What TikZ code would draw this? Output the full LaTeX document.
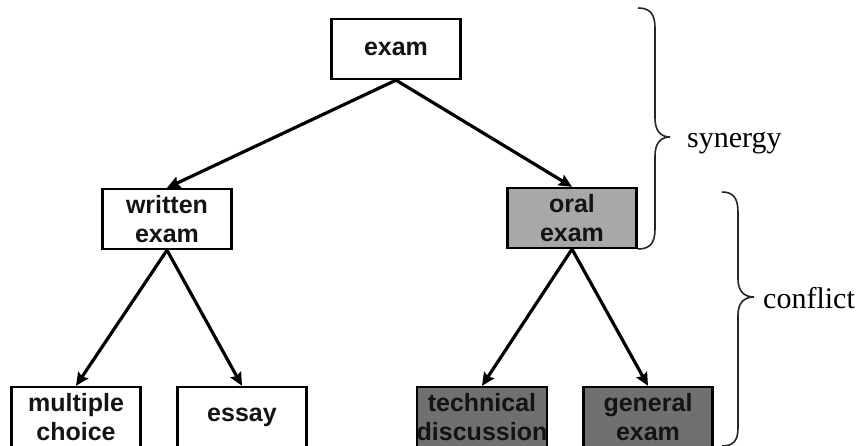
\documentclass[tikz,border=0pt]{standalone}
\usepackage{fontspec}
\setmainfont{Liberation Sans}
\newfontfamily\serifface{Liberation Serif}
\usetikzlibrary{arrows.meta}

\definecolor{lightfill}{RGB}{168,168,168}
\definecolor{darkfill}{RGB}{112,112,112}
\definecolor{inktext}{RGB}{20,20,20}

\begin{document}
\begin{tikzpicture}[x=1pt,y=-1pt,
  box/.style={draw=black, line width=2.3pt, fill=white, minimum width=129pt,
    minimum height=60pt, inner sep=0pt, align=center, text=inktext,
    font=\fontsize{25}{29}\selectfont\bfseries},
  lightbox/.style={box, fill=lightfill},
  darkbox/.style={box, fill=darkfill},
  link/.style={line width=3.2pt, draw=black,
    -{Stealth[length=13pt,width=12pt,inset=2pt]}},
  bracepath/.style={line width=1.6pt, draw=black!85},
  tag/.style={font=\serifface\fontsize{30}{36}\selectfont, anchor=base west,
    inner sep=0pt, text=black}]

\useasboundingbox[fill=white] (0,0) rectangle (866,446);

% tree of exam types
\node[box]      (exam)    at (396,49)  {exam};
\node[box]      (written) at (167,219) {written\\exam};
\node[lightbox] (oral)    at (572,218) {oral\\exam};
\node[box]      (mc)      at (76,417)  {multiple\\choice};
\node[box]      (essay)   at (242,417) {essay};
\node[darkbox]  (tech)    at (482,417) {technical\\discussion};
\node[darkbox]  (general) at (648,417) {general\\exam};

\draw[link] (exam.south) -- (written.north);
\draw[link] (exam.south) -- (oral.north);
\draw[link] (written.south) -- (mc.north);
\draw[link] (written.south) -- (essay.north);
\draw[link] (oral.south) -- (tech.north);
\draw[link] (oral.south) -- (general.north);

% brace over the upper two levels
\draw[bracepath] (638,8) .. controls (650,8) and (655,14) .. (655,28)
  -- (655,118) .. controls (655,130) and (660,137) .. (670,137)
  .. controls (660,137) and (655,144) .. (655,156)
  -- (655,229) .. controls (655,243) and (650,249) .. (638,249);
\node[tag] (synergy) at (687,148) {synergy};

% brace over the lower two levels
\draw[bracepath] (722,192) .. controls (733,192) and (738,198) .. (738,212)
  -- (738,279) .. controls (738,291) and (744,297) .. (754,297)
  .. controls (744,297) and (738,303) .. (738,315)
  -- (738,428) .. controls (738,441) and (733,446) .. (722,446);
\node[tag] (conflict) at (763,308) {conflict};

\end{tikzpicture}
\end{document}
